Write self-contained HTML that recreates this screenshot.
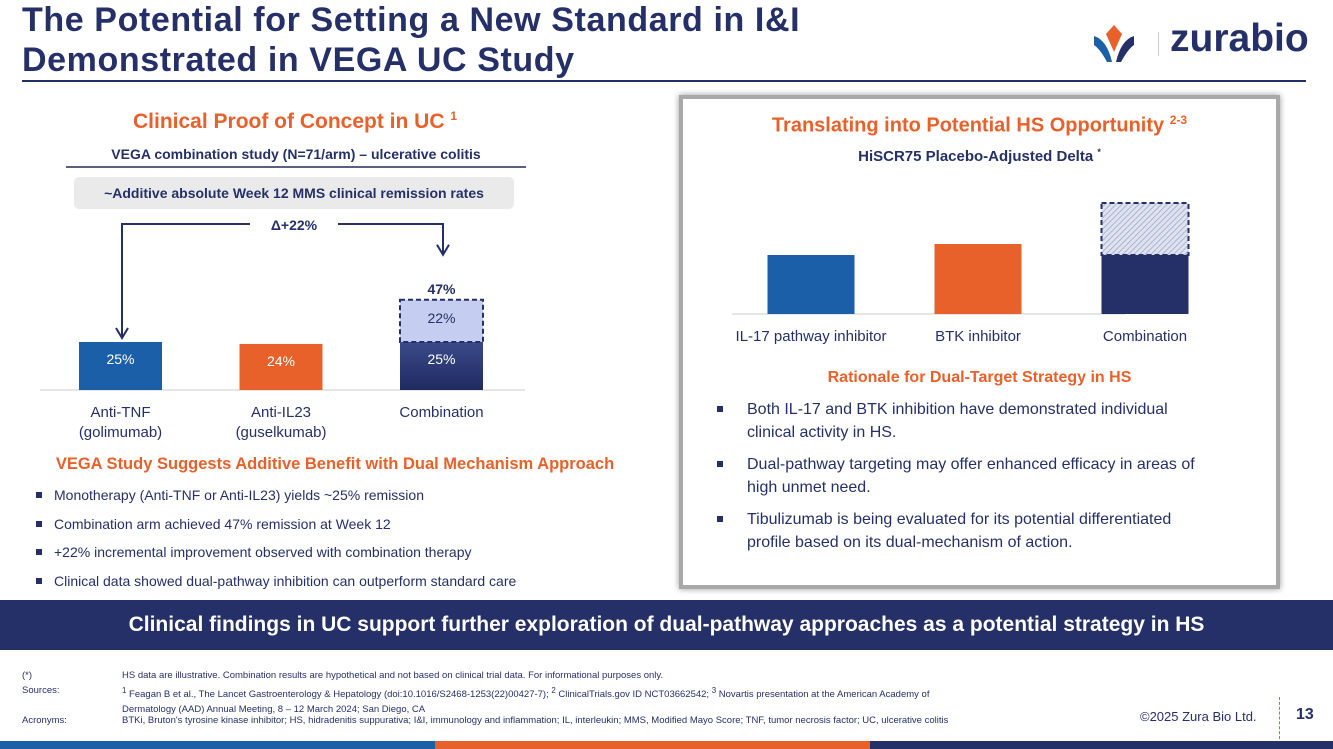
<!DOCTYPE html>
<html><head><meta charset="utf-8"><style>
*{margin:0;padding:0;box-sizing:border-box}
body{width:1333px;height:749px;overflow:hidden;background:#fff;font-family:"Liberation Sans",sans-serif;position:relative;color:#263068}
.abs{position:absolute}
.t{font-weight:bold;color:#263068;font-size:34px;line-height:40px;left:22px;top:0px;letter-spacing:0.6px}
.or{color:#e8612a;font-weight:bold}
ul{list-style:none}
.lb li{position:relative;padding-left:18px;font-size:14px;color:#263068;height:28.5px}
.lb li:before{content:"";position:absolute;left:0;top:5px;width:6px;height:6px;background:#263068}
.rb li{position:relative;padding-left:32px;font-size:16px;line-height:23px;color:#263068;margin-bottom:9px}
.rb li:before{content:"";position:absolute;left:2px;top:8px;width:6px;height:6px;background:#263068}
.fn{font-size:9.5px;color:#263068;line-height:15px}
</style></head><body>
<div class="abs t">The Potential for Setting a New Standard in I&amp;I<br>Demonstrated in VEGA UC Study</div>
<div class="abs" style="left:1092px;top:22px;width:230px;height:44px">
<svg width="60" height="44" style="position:absolute;left:0;top:0"><polygon points="22,3 30,12 22,30 14,12" fill="#e8612a"/><path d="M2,14 Q15,18 20,40 L15,40 Q8,27 2,23Z" fill="#1b5fa8"/><path d="M42,14 Q29,18 24,40 L29,40 Q36,27 42,23Z" fill="#263068"/></svg>
<div class="abs" style="left:66px;top:10px;width:1px;height:24px;background:#ccc"></div>
<div class="abs" style="left:78px;top:-5px;font-size:39px;font-weight:bold;color:#263068">zurabio</div></div>
<div class="abs" style="left:22px;top:80px;width:1284px;height:2px;background:#263068"></div>

<div class="abs or" style="left:0;width:590px;text-align:center;top:109px;font-size:21px">Clinical Proof of Concept in UC <sup style="font-size:12px">1</sup></div>
<div class="abs" style="left:66px;width:460px;text-align:center;top:146px;font-size:14px;font-weight:bold;padding-bottom:4px;border-bottom:2px solid #5a6080">VEGA combination study (N=71/arm) – ulcerative colitis</div>
<div class="abs" style="left:74px;top:177px;width:440px;height:32px;background:#eaeaea;border-radius:5px;text-align:center;line-height:32px;font-size:14px;font-weight:bold">~Additive absolute Week 12 MMS clinical remission rates</div>
<svg class="abs" style="left:0;top:210px" width="600" height="240" id="lc"></svg>

<div class="abs or" style="left:0;width:670px;text-align:center;top:455px;font-size:16.5px">VEGA Study Suggests Additive Benefit with Dual Mechanism Approach</div>
<ul class="abs lb" style="left:36px;top:487px">
<li>Monotherapy (Anti-TNF or Anti-IL23) yields ~25% remission</li>
<li>Combination arm achieved 47% remission at Week 12</li>
<li>+22% incremental improvement observed with combination therapy</li>
<li>Clinical data showed dual-pathway inhibition can outperform standard care</li></ul>

<div class="abs" style="left:679px;top:95px;width:601px;height:494px;border:4px solid #a8a8a8;box-shadow:0 0 6px #999"></div>
<div class="abs or" style="left:683px;width:593px;text-align:center;top:113px;font-size:20px">Translating into Potential HS Opportunity <sup style="font-size:12px">2-3</sup></div>
<div class="abs" style="left:683px;width:593px;text-align:center;top:147px;font-size:15px;font-weight:bold">HiSCR75 Placebo-Adjusted Delta <sup style="font-size:9px">*</sup></div>
<svg class="abs" style="left:683px;top:190px" width="593" height="170" id="rc"></svg>
<div class="abs or" style="left:683px;width:593px;text-align:center;top:369px;font-size:16px">Rationale for Dual-Target Strategy in HS</div>
<ul class="abs rb" style="left:715px;top:398px;width:530px">
<li>Both IL-17 and BTK inhibition have demonstrated individual<br>clinical activity in HS.</li>
<li>Dual-pathway targeting may offer enhanced efficacy in areas of<br>high unmet need.</li>
<li>Tibulizumab is being evaluated for its potential differentiated<br>profile based on its dual-mechanism of action.</li></ul>

<div class="abs" style="left:0;top:600px;width:1333px;height:50px;background:#263068;color:#fff;font-weight:bold;font-size:21px;text-align:center;line-height:50px">Clinical findings in UC support further exploration of dual-pathway approaches as a potential strategy in HS</div>

<div class="abs fn" style="left:22px;top:668px;width:1100px">
<div style="position:relative;height:15px"><span>(*)</span><span class="abs" style="left:100px">HS data are illustrative. Combination results are hypothetical and not based on clinical trial data. For informational purposes only.</span></div>
<div style="position:relative;height:30px"><span>Sources:</span><span class="abs" style="left:100px;width:960px"><sup>1</sup> Feagan B et al., The Lancet Gastroenterology &amp; Hepatology (doi:10.1016/S2468-1253(22)00427-7); <sup>2</sup> ClinicalTrials.gov ID NCT03662542; <sup>3</sup> Novartis presentation at the American Academy of<br>Dermatology (AAD) Annual Meeting, 8 – 12 March 2024; San Diego, CA</span></div>
<div style="position:relative;height:15px"><span>Acronyms:</span><span class="abs" style="left:100px">BTKi, Bruton's tyrosine kinase inhibitor; HS, hidradenitis suppurativa; I&amp;I, immunology and inflammation; IL, interleukin; MMS, Modified Mayo Score; TNF, tumor necrosis factor; UC, ulcerative colitis</span></div></div>
<div class="abs" style="left:1140px;top:709px;font-size:13px">©2025 Zura Bio Ltd.</div>
<div class="abs" style="left:1279px;top:697px;height:42px;border-left:1px dashed #e8612a"></div>
<div class="abs" style="left:1296px;top:706px;font-size:16px;font-weight:bold">13</div>
<div class="abs" style="left:0;top:741px;width:435px;height:8px;background:#1b5fa8"></div>
<div class="abs" style="left:435px;top:741px;width:435px;height:8px;background:#e8612a"></div>
<div class="abs" style="left:870px;top:741px;width:463px;height:8px;background:#263068"></div>

<script>
const ucCats=[["Anti-TNF","(golimumab)"],["Anti-IL23","(guselkumab)"],["Combination",""]];
const ucBase=[25,24,25];
const ucAdd=[0,0,22];
const hsCats=["IL-17 pathway inhibitor","BTK inhibitor","Combination"];
const hsBase=[29.5,35,29.5];
const hsAdd=[0,0,26];
const NS="http://www.w3.org/2000/svg";
function mk(p,t,a,txt){const e=document.createElementNS(NS,t);for(const k in a)e.setAttribute(k,a[k]);if(txt!==undefined)e.textContent=txt;p.appendChild(e);return e;}
(function(){
const s=document.getElementById('lc');const base=180,sc=1.92;
const cx=i=>120.5+i*160.5;const y=v=>base-v*sc;
const cols=["#1b5fa8","#e8612a","#263068"];
const d=mk(s,'defs',{});const g=mk(d,'linearGradient',{id:'ng',x1:0,y1:0,x2:0,y2:1});
mk(g,'stop',{offset:0,'stop-color':'#3a4a8a'});mk(g,'stop',{offset:1,'stop-color':'#1f2a60'});
let l=mk(s,'line',{x1:40,x2:525,y1:base,y2:base,stroke:'#ddd','stroke-width':1.5});

ucCats.forEach((c,i)=>{
 const r=mk(s,'rect',{x:cx(i)-41.5,width:83,y:y(ucBase[i]),height:ucBase[i]*sc,fill:i==2?'url(#ng)':cols[i]});
 
 mk(s,'text',{x:cx(i),y:y(ucBase[i])+22,'text-anchor':'middle',fill:'#fff','font-size':14},ucBase[i]+'%');
 if(ucAdd[i]>0){const t=y(ucBase[i]+ucAdd[i]);
  const a=mk(s,'rect',{x:cx(i)-41.5,width:83,y:t,height:ucAdd[i]*sc,fill:'#c5cdf0',stroke:'#263068','stroke-width':2,'stroke-dasharray':'5,3'});
  
  mk(s,'text',{x:cx(i),y:t+23,'text-anchor':'middle',fill:'#263068','font-size':14},ucAdd[i]+'%');
  mk(s,'text',{x:cx(i),y:t-6,'text-anchor':'middle',fill:'#263068','font-size':14,'font-weight':'bold'},(ucBase[i]+ucAdd[i])+'%');}
 mk(s,'text',{x:cx(i),y:base+27,'text-anchor':'middle',fill:'#263068','font-size':15},c[0]);
 if(c[1])mk(s,'text',{x:cx(i),y:base+47,'text-anchor':'middle',fill:'#263068','font-size':15},c[1]);
});
const ay=y(ucBase[2]+ucAdd[2])-45;
const ar=mk(s,'path',{d:`M250,14 H122 V${y(ucBase[0])-4} M116,${y(ucBase[0])-14} L122,${y(ucBase[0])-4} L128,${y(ucBase[0])-14} M338,14 H443 V${ay} M437,${ay-10} L443,${ay} L449,${ay-10}`,fill:'none',stroke:'#263068','stroke-width':2});

mk(s,'text',{x:294,y:20,'text-anchor':'middle',fill:'#263068','font-size':14,'font-weight':'bold'},'Δ+'+ucAdd[2]+'%');
})();
(function(){
const s=document.getElementById('rc');const base=124,sc=2;
const cx=i=>128+i*167;const y=v=>base-v*sc;
const cols=["#1b5fa8","#e8612a","#263068"];
const d=mk(s,'defs',{});const p=mk(d,'pattern',{id:'hp',width:4,height:4,patternUnits:'userSpaceOnUse',patternTransform:'rotate(45)'});
mk(p,'rect',{width:4,height:4,fill:'#dfe3ef'});mk(p,'line',{x1:0,y1:0,x2:0,y2:4,stroke:'#9aa4c8','stroke-width':1.5});
let l=mk(s,'line',{x1:49,x2:442,y1:base,y2:base,stroke:'#ddd','stroke-width':1.5});

hsCats.forEach((c,i)=>{
 const r=mk(s,'rect',{x:cx(i)-43.5,width:87,y:y(hsBase[i]),height:hsBase[i]*sc,fill:cols[i]});
 
 if(hsAdd[i]>0){const a=mk(s,'rect',{x:cx(i)-43.5,width:87,y:y(hsBase[i]+hsAdd[i]),height:hsAdd[i]*sc,fill:'url(#hp)',stroke:'#263068','stroke-width':2,'stroke-dasharray':'5,3'});
  }
 mk(s,'text',{x:cx(i),y:base+27,'text-anchor':'middle',fill:'#263068','font-size':15},c);
});
})();
</script>
</body></html>
